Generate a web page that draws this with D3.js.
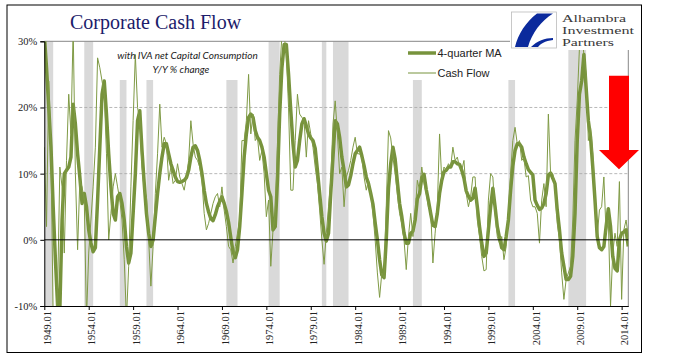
<!DOCTYPE html>
<html lang="en">
<head>
<meta charset="UTF-8">
<title>Corporate Cash Flow</title>
<script src="https://cdn.jsdelivr.net/npm/d3@7/dist/d3.min.js"></script>
<style>
  body { margin: 0; background: #fff; }
</style>
</head>
<body>
<svg width="675" height="358" id="main"></svg>
<script>
    // quarterly categories 1949.01 .. 2014.04
    const firstYear = 1949, lastYear = 2014;
    const quarters = d3.range(firstYear, lastYear + 1)
        .flatMap(y => ['01', '02', '03', '04'].map(q => `${y}.${q}`));

    const tickLabels = ['1949.01', '1954.01', '1959.01', '1964.01', '1969.01', '1974.01', '1979.01',
        '1984.01', '1989.01', '1994.01', '1999.01', '2004.01', '2009.01', '2014.01'];
    const yTicks = [-10, 0, 10, 20, 30];

    // Y/Y % change, one row per year
    const cashFlow = [
        14, 2, 24, 14,  -12, -12, -8, 11,  8, -2, 12, 22,  16, 32, 10, -1.5,  9, 8, 6, -12,
        -2, 3, 8, 14,  27.5, 26, 24, 22,  13, 0, 4, 8,  10, 8, 6, 3,  -3, -12, -4, 8,
        18, 28, 20, 18,  11, 7.5, 6.5, 0,  -7, -1, 7, 13,  20.5, 14, 15.5, 14.5,  9, 11, 8.5, 9,
        11.5, 9.5, 8.5, 7.5,  9.5, 12, 18, 14.5,  12.5, 12, 11, 9,  4, 1.5, 2.5, 4,  5.5, 6.5, 7, 5,
        8, 4.5, 2, -1,  -1.5, -3.5, -1, 1,  3, 15, 15, 18,  25, 16, 19, 15,  15.5, 12, 13.5, 10,
        3.5, 6, -4, 1.5,  4, 14, 25, 31,  31, 28, 20, 7.5,  7.5, 15, 22, 19,  18.5, 18, 12.5, 18,
        16, 14, 11, 8.5,  4.5, 0, -3.7, 1,  5, 9, 17.5, 21,  16, 10, 11, 5,  9.5, 10.5, 12, 14,
        15.5, 13, 13, 12.4,  9.5, 7.5, 9, 7,  4, 0, -5, -8.7,  -5, -5.7, 5, 16.5,  15.4, 12.5, 10, 6.8,
        4, 2.4, 0, -4.5,  0.5, 4, 0.5, 4,  9, 7.5, 11, 8.5,  7, 5, 4.5, -3.5,  1, 5, 16, 9,
        11, 10.5, 11.5, 11,  14, 12, 12.5, 11,  10.5, 12, 7, 5,  6.5, 9.5, 9.5, 3,  0.5, -2.5, -4.7, -4.5,
        6, 10, 9.5, 4,  0.5, -0.5, 0.5, -3,  -1, 4, 10, 15,  17, 14.5, 15, 12,  12.4, 9.5, 9.7, 6,
        5, 5, 4, -0.5,  6, 8.5, 5, 19,  10, 10, 8, 2.5,  0, -5, -9, -6,  -5, -4, 3, 15,
        21, 29, 32, 28,  25, 15, 17, 13,  6, 0.5, 4.5, 5,  9.5, 1, 3, -10,  -2, 1, -1, 8.8,
        -9, 1.5, 3, 0.5
    ];

    const movingAvg = [
        31, 26, 20, 14,  5, -3, -10, -10.5,  3, 10, 10.5, 11,  12.5, 20.5, 17.5, 13,  9.5, 5.5, 7, 5,
        1.5, -0.5, -1.8, -1.2,  6, 14, 22, 24,  19, 13, 8, 4,  3, 6.5, 7, 5.5,  3, -1, -3.5, -2,
        4, 10, 18, 19.5,  13.5, 8.5, 4, 1,  -1, 0, 3.5, 7,  10, 12.5, 14.5, 14.5,  13, 11.5, 10.5, 9.5,
        8.8, 8.7, 8.8, 9,  9.4, 10.5, 12.5, 14,  14.2, 13.5, 12, 10,  7.5, 5.5, 4.2, 3.2,  2.9, 3.8, 5, 5.8,
        6.5, 5.5, 4.3, 2.6,  0.3, -1.8, -2.7, -1.5,  2, 7, 12.5, 16,  18.5, 19, 18.5, 16.5,  15.5, 15, 14, 12.5,
        10, 7.5, 6.5, 1.5,  2, 9, 19, 26,  29.5, 29.5, 25, 19.5,  14.5, 11, 12, 15,  17.5, 18.3, 17.2, 16,
        15.4, 15, 13.8, 10.5,  7, 3.5, 1, -0.2,  1, 7, 12.5, 18,  17.5, 15.5, 12.5, 10.5,  8, 8.3, 9.7, 11.5,
        13, 13.5, 14, 12.7,  11.2, 9.5, 8.5, 7,  5.4, 2.6, 0, -3,  -5.3, -5.7, 0, 7.8,  11.5, 14, 12.2, 8.8,
        5.5, 3.5, 1, -0.5,  -0.5, 1, 1.3, 3,  6.2, 7, 9.4, 9.9,  7.6, 5.9, 4, 2.2,  2, 4, 7, 9,
        10.3, 10.5, 11, 11,  11.8, 11.8, 11.5, 11.4,  10.5, 9.3, 7.4, 6.6,  6, 6.3, 7.8, 5,  2, -0.5, -2.5, -2,
        1.5, 5, 7.8, 5,  2, 0.3, -1.2, -1.5,  0.5, 3, 7.5, 11.2,  13.5, 14.5, 14.5, 14,  12.5, 11.5, 10.6, 10.2,
        9.8, 6, 5.2, 4.6,  4.8, 5.5, 7, 9.8,  10.1, 9.3, 8.5, 4.5,  1.5, -2, -4, -6,  -6, -5.5, -2.5, 4,
        15, 22, 24, 28,  23, 18, 15.5, 11,  6, 0.5, -1.2, -1.5,  -1, 2, 4.7, 2,  -2.5, -4.3, -4.7, 0,
        1, 1.2, 1.5, -1
    ];

    // recession shading, first and last quarter
    const recessionStart = ['1949.01', '1953.03', '1957.03', '1960.03', '1969.03', '1974.02',
        '1980.02', '1981.03', '1990.03', '2001.02', '2008.01'];
    const recessionEnd = ['1949.04', '1954.02', '1958.01', '1961.01', '1970.03', '1975.02',
        '1980.03', '1983.01', '1991.02', '2001.04', '2009.04'];

    const svg = d3.select('#main');
    const plot = {left: 44.3, right: 628.3, top: 41.3, bottom: 306};
    const green = '#77933C';

    const x = d3.scalePoint().domain(quarters).range([plot.left, plot.right]);
    const step = x.step();
    const y = d3.scaleLinear().domain([-10, 30]).range([plot.bottom, plot.top]);

    // outer frame
    svg.append('rect').attr('x', 7).attr('y', 5).attr('width', 634.5).attr('height', 347.5)
        .attr('fill', '#fff').attr('stroke', '#000').attr('stroke-width', 1);

    svg.append('defs').append('clipPath').attr('id', 'clip')
        .append('rect').attr('x', plot.left).attr('y', plot.top)
        .attr('width', plot.right - plot.left).attr('height', plot.bottom - plot.top);

    // recession bars
    svg.append('g').attr('clip-path', 'url(#clip)')
        .selectAll('rect').data(recessionStart).join('rect')
        .attr('x', d => x(d))
        .attr('width', (d, i) => x(recessionEnd[i]) + step - x(d))
        .attr('y', plot.top).attr('height', plot.bottom - plot.top)
        .attr('fill', '#D9D9D9');

    // white text boxes cover the bars
    svg.append('rect').attr('x', 100).attr('y', plot.top).attr('width', 166).attr('height', 80 - plot.top).attr('fill', '#fff');
    svg.append('rect').attr('x', 400).attr('y', plot.top).attr('width', 118).attr('height', 80 - plot.top).attr('fill', '#fff');

    // gridlines
    svg.append('g').selectAll('line').data([10, 20]).join('line')
        .attr('x1', plot.left).attr('x2', plot.right)
        .attr('y1', d => y(d)).attr('y2', d => y(d))
        .attr('stroke', '#A6A6A6').attr('stroke-width', 0.8).attr('stroke-dasharray', '3,2');
    svg.append('line').attr('x1', plot.left).attr('x2', plot.right)
        .attr('y1', y(30)).attr('y2', y(30)).attr('stroke', '#888').attr('stroke-width', 1);
    svg.append('line').attr('x1', plot.right).attr('x2', plot.right)
        .attr('y1', plot.top).attr('y2', plot.bottom).attr('stroke', '#888').attr('stroke-width', 1);

    // series
    const line = d3.line().x((d, i) => x(quarters[i])).y(d => y(d));
    const lines = svg.append('g').attr('clip-path', 'url(#clip)');
    lines.append('path').datum(movingAvg).attr('d', line)
        .attr('fill', 'none').attr('stroke', green).attr('stroke-width', 3.5).attr('stroke-linejoin', 'round');
    lines.append('path').datum(cashFlow).attr('d', line)
        .attr('fill', 'none').attr('stroke', '#7F9A45').attr('stroke-width', 1).attr('stroke-linejoin', 'round');

    // zero line
    svg.append('line').attr('x1', plot.left).attr('x2', plot.right)
        .attr('y1', y(0)).attr('y2', y(0)).attr('stroke', '#000').attr('stroke-width', 1);

    // axes
    const yAxis = svg.append('g').attr('transform', `translate(${plot.left},0)`)
        .call(d3.axisLeft(y).tickValues(yTicks).tickSize(4).tickFormat(d => d + '%'));
    yAxis.select('.domain').attr('stroke', '#000');
    yAxis.selectAll('text').attr('font-family', 'Liberation Serif').attr('font-size', 10.5).attr('fill', '#222');

    const xAxis = svg.append('g').attr('transform', `translate(0,${plot.bottom})`)
        .call(d3.axisBottom(x).tickValues(tickLabels).tickSize(4).tickSizeOuter(0));
    xAxis.select('.domain').attr('stroke', '#000');
    xAxis.selectAll('text')
        .attr('font-family', 'Liberation Serif').attr('font-size', 10.5).attr('fill', '#222')
        .attr('text-anchor', 'end')
        .attr('transform', 'translate(2.5,-3) rotate(-90)')
        .attr('x', -8).attr('y', 0).attr('dy', '0.35em');

    // title and note
    svg.append('text').text('Corporate Cash Flow')
        .attr('x', 70).attr('y', 28.5)
        .attr('font-family', 'Liberation Serif').attr('font-size', 20).attr('fill', '#1C1C6B');
    const note = svg.append('g').attr('font-family', 'Lato').attr('font-style', 'italic')
        .attr('font-size', 10).attr('fill', '#222').attr('text-anchor', 'middle');
    note.append('text').text('with IVA net Capital Consumption').attr('x', 187.5).attr('y', 59);
    note.append('text').text('Y/Y % change').attr('x', 181).attr('y', 72.5);

    // legend
    const legend = svg.append('g').attr('font-family', 'Liberation Sans').attr('font-size', 11).attr('fill', '#222');
    legend.append('line').attr('x1', 408).attr('x2', 436).attr('y1', 53).attr('y2', 53)
        .attr('stroke', green).attr('stroke-width', 3.5);
    legend.append('text').text('4-quarter MA').attr('x', 437.5).attr('y', 57);
    legend.append('line').attr('x1', 408).attr('x2', 436).attr('y1', 73).attr('y2', 73)
        .attr('stroke', green).attr('stroke-width', 1);
    legend.append('text').text('Cash Flow').attr('x', 437.5).attr('y', 77);

    // logo
    const logo = svg.append('g');
    logo.append('rect').attr('x', 510).attr('y', 6).attr('width', 131).attr('height', 44).attr('fill', '#fff');
    logo.append('rect').attr('x', 511.5).attr('y', 12).attr('width', 45).attr('height', 36)
        .attr('fill', '#fff').attr('stroke', '#BBB').attr('stroke-width', 0.8);
    logo.append('path').attr('d', 'M553,13.5 L537,13.5 C526,22 518,34 515,47 L528,47 C532,33 541,21 553,13.5 Z')
        .attr('fill', '#0B2A9C');
    logo.append('path').attr('d', 'M531,47 C537,41 545,38 553,38 L553,40 C545,41 540,44 538,47 Z')
        .attr('fill', '#0B2A9C');
    const logoText = logo.append('g').attr('font-family', 'Liberation Serif').attr('font-size', 10.4).attr('fill', '#3A3A3A');
    logoText.append('text').text('Alhambra').attr('x', 562).attr('y', 21.5).attr('textLength', 64).attr('lengthAdjust', 'spacingAndGlyphs');
    logoText.append('text').text('Investment').attr('x', 562).attr('y', 33.5).attr('textLength', 72).attr('lengthAdjust', 'spacingAndGlyphs');
    logoText.append('text').text('Partners').attr('x', 562).attr('y', 45.5).attr('textLength', 52).attr('lengthAdjust', 'spacingAndGlyphs');

    // red arrow
    svg.append('path')
        .attr('d', 'M609,75.7 L629,75.7 L629,150 L639,150 L619,169.3 L599,150 L609,150 Z')
        .attr('fill', '#FF0000');
</script>
</body>
</html>
